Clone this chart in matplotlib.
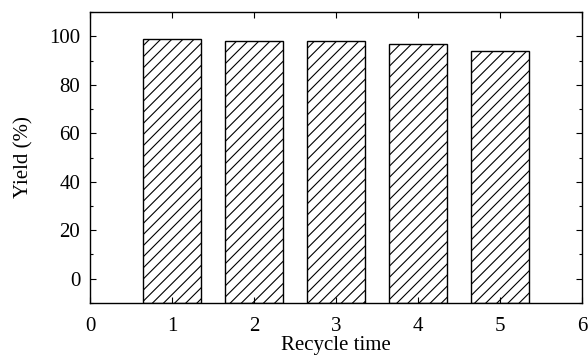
import numpy as np
import matplotlib
matplotlib.use("Agg")
import matplotlib.pyplot as plt
from matplotlib.ticker import MultipleLocator

# dados
ciclos = [1, 2, 3, 4, 5]
rendimento = [99, 98, 98, 97, 94]
base = -10

plt.rcParams['font.family'] = ['Liberation Serif', 'DejaVu Serif']
plt.rcParams['hatch.linewidth'] = 0.8

fig, ax = plt.subplots(figsize=(5.88, 3.58), dpi=100)
fig.subplots_adjust(left=0.153, right=0.99, top=0.966, bottom=0.154)

alturas = np.array(rendimento) - base
ax.bar(ciclos, alturas, bottom=base, width=0.7, color='white',
       edgecolor='black', linewidth=1.0, hatch='///')

ax.set_xlim(0, 6)
ax.set_ylim(-10, 110)
ax.xaxis.set_major_locator(MultipleLocator(1))
ax.yaxis.set_minor_locator(MultipleLocator(10))
ax.set_yticks([0, 20, 40, 60, 80, 100])

ax.tick_params(direction='in', which='both', top=True, right=True, labelsize=15)
ax.tick_params(which='major', length=4, width=0.8)
ax.tick_params(which='minor', length=2.5, width=0.8)
ax.tick_params(axis='x', pad=10)
ax.tick_params(axis='y', pad=7)
for s in ax.spines.values():
    s.set_linewidth(1.0)

ax.set_xlabel("Recycle time", fontsize=15, labelpad=0)
ax.set_ylabel("Yield (%)", fontsize=15, labelpad=11)

fig.savefig("out.png", dpi=100)
